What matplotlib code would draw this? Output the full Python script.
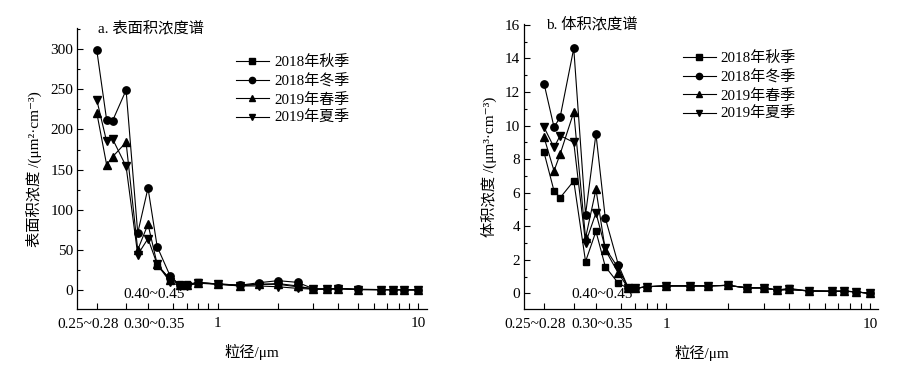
import numpy as np
import matplotlib
matplotlib.use("Agg")
import matplotlib.pyplot as plt
from matplotlib.ticker import FixedLocator, NullFormatter, MultipleLocator

FONTS = ['Liberation Serif', 'Noto Sans CJK SC', 'DejaVu Sans']
plt.rcParams['font.family'] = FONTS

# particle size channels (um)
sizes = [0.25, 0.28, 0.30, 0.35, 0.40, 0.45, 0.50, 0.58, 0.65, 0.70, 0.80, 1.0,
         1.3, 1.6, 2.0, 2.5, 3.0, 3.5, 4.0, 5.0, 6.5, 7.5, 8.5, 10.0]
seasons = ['2018年秋季', '2018年冬季', '2019年春季', '2019年夏季']
markers = ['s', 'o', '^', 'v']
marker_sizes = [4.6, 5.3, 5.3, 5.3]

# a. surface area concentration (um2/cm3)
surf_autumn18 = [np.nan, np.nan, np.nan, np.nan, np.nan, np.nan, 30, 14, 8, 7, 9.5, 7.5,
                 6, 7, 7, 4, 1.5, 1.2, 2, 0.8, 0.5, 0.4, 0.3, 0.2]
surf_winter18 = [299, 212, 211, 249, 71, 127, 54, 17.5, 6, 6, 9, 7.5,
                 6, 9, 11.6, 9.5, 1.5, 1.2, 2, 0.8, 0.5, 0.4, 0.3, 0.2]
surf_spring19 = [221, 156, 166, 184, 50, 82, 32, 13, 6, 6, 9, 7.5,
                 5, 7, 8, 5, 1, 1, 1.5, 0.5, 0.3, 0.3, 0.2, 0.1]
surf_summer19 = [237, 185, 188, 154, 44, 64, 32, 10, 5, 5, 8.5, 7,
                 5, 5, 4, 2, 1, 1, 1.5, 0.5, 0.3, 0.3, 0.2, 0.1]

# b. volume concentration (um3/cm3)
vol_autumn18 = [8.4, 6.1, 5.7, 6.7, 1.9, 3.7, 1.6, 0.6, 0.3, 0.3, 0.4, 0.45,
                0.45, 0.45, 0.48, 0.33, 0.33, 0.2, 0.3, 0.15, 0.13, 0.13, 0.1, 0.0]
vol_winter18 = [12.5, 9.9, 10.5, 14.6, 4.7, 9.5, 4.5, 1.7, 0.3, 0.3, 0.4, 0.45,
                0.45, 0.45, 0.48, 0.33, 0.33, 0.2, 0.24, 0.15, 0.13, 0.13, 0.1, 0.0]
vol_spring19 = [9.3, 7.3, 8.3, 10.8, 3.3, 6.2, 2.6, 1.2, 0.3, 0.3, 0.4, 0.45,
                0.45, 0.45, 0.48, 0.33, 0.33, 0.2, 0.24, 0.15, 0.13, 0.13, 0.1, 0.0]
vol_summer19 = [9.9, 8.7, 9.4, 9.0, 3.0, 4.8, 2.7, 1.5, 0.3, 0.3, 0.4, 0.45,
                0.45, 0.45, 0.48, 0.33, 0.33, 0.2, 0.24, 0.15, 0.13, 0.13, 0.1, 0.0]

surf_series = [surf_autumn18, surf_winter18, surf_spring19, surf_summer19]
vol_series = [vol_autumn18, vol_winter18, vol_spring19, vol_summer19]

fig = plt.figure(figsize=(9.04, 3.75), dpi=100)
ax_a = fig.add_axes([0.0855, 0.176, 0.3865, 0.7485])
ax_b = fig.add_axes([0.580, 0.175, 0.3916, 0.761])


def style_axes(ax, series, ylim, ymajor, yminor, title, ylabel, leg_x):
    for s, mk, ms, lab in zip(series, markers, marker_sizes, seasons):
        ax.plot(sizes, s, color='black', lw=0.8, marker=mk, ms=ms, label=lab)
    ax.set_xscale('log')
    ax.set_xlim(0.2, 11)
    ax.set_ylim(*ylim)
    ax.spines['top'].set_visible(False)
    ax.spines['right'].set_visible(False)
    ax.xaxis.set_major_locator(FixedLocator([0.25, 0.35, 0.45, 1, 10]))
    ax.xaxis.set_minor_locator(FixedLocator([0.6, 0.7, 0.8, 0.9, 2, 3, 4, 5, 6, 7, 8, 9]))
    ax.set_xticklabels(['', '', '', '1', '10'])
    ax.xaxis.set_minor_formatter(NullFormatter())
    ax.yaxis.set_major_locator(MultipleLocator(ymajor))
    ax.yaxis.set_minor_locator(MultipleLocator(yminor))
    ax.tick_params(axis='x', which='both', direction='in', length=4.5, width=0.8,
                   labelsize=11, pad=6)
    ax.tick_params(axis='y', which='major', direction='in', length=4.5, width=0.8,
                   labelsize=11, pad=3)
    ax.tick_params(axis='y', which='minor', direction='in', length=2.5, width=0.8)
    for sp in ['left', 'bottom']:
        ax.spines[sp].set_linewidth(0.9)
    # range labels for the first channels
    ax.annotate('0.25~0.28', xy=(0.226, 0), xycoords=('data', 'axes fraction'),
                xytext=(0, -6.5), textcoords='offset points', ha='center', va='top',
                fontsize=11)
    ax.annotate('0.30~0.35', xy=(0.482, 0), xycoords=('data', 'axes fraction'),
                xytext=(0, -6.5), textcoords='offset points', ha='center', va='top',
                fontsize=11)
    ax.annotate('0.40~0.45', xy=(0.482, 0), xycoords=('data', 'axes fraction'),
                xytext=(0, 6), textcoords='offset points', ha='center', va='bottom',
                fontsize=11)
    ax.text(0.06, 1.0, title, transform=ax.transAxes, ha='left', va='center',
            fontsize=11)
    ax.set_ylabel(ylabel, fontsize=11, labelpad=6)
    ax.set_xlabel('粒径/μm', fontsize=11, labelpad=10)
    ax.legend(loc='upper left', bbox_to_anchor=(leg_x, 0.925), frameon=False,
              fontsize=10.8, handlelength=2.2, handletextpad=0.35, labelspacing=0.3,
              borderaxespad=0, markerscale=0.85)


style_axes(ax_a, surf_series, (-23.7, 326), 50, 25, 'a. 表面积浓度谱',
           '表面积浓度 /(μm²·cm⁻³)', 0.436)
style_axes(ax_b, vol_series, (-0.95, 16.05), 2, 1, 'b. 体积浓度谱',
           '体积浓度 /(μm³·cm⁻³)', 0.43)

fig.savefig('out.png', dpi=100)
